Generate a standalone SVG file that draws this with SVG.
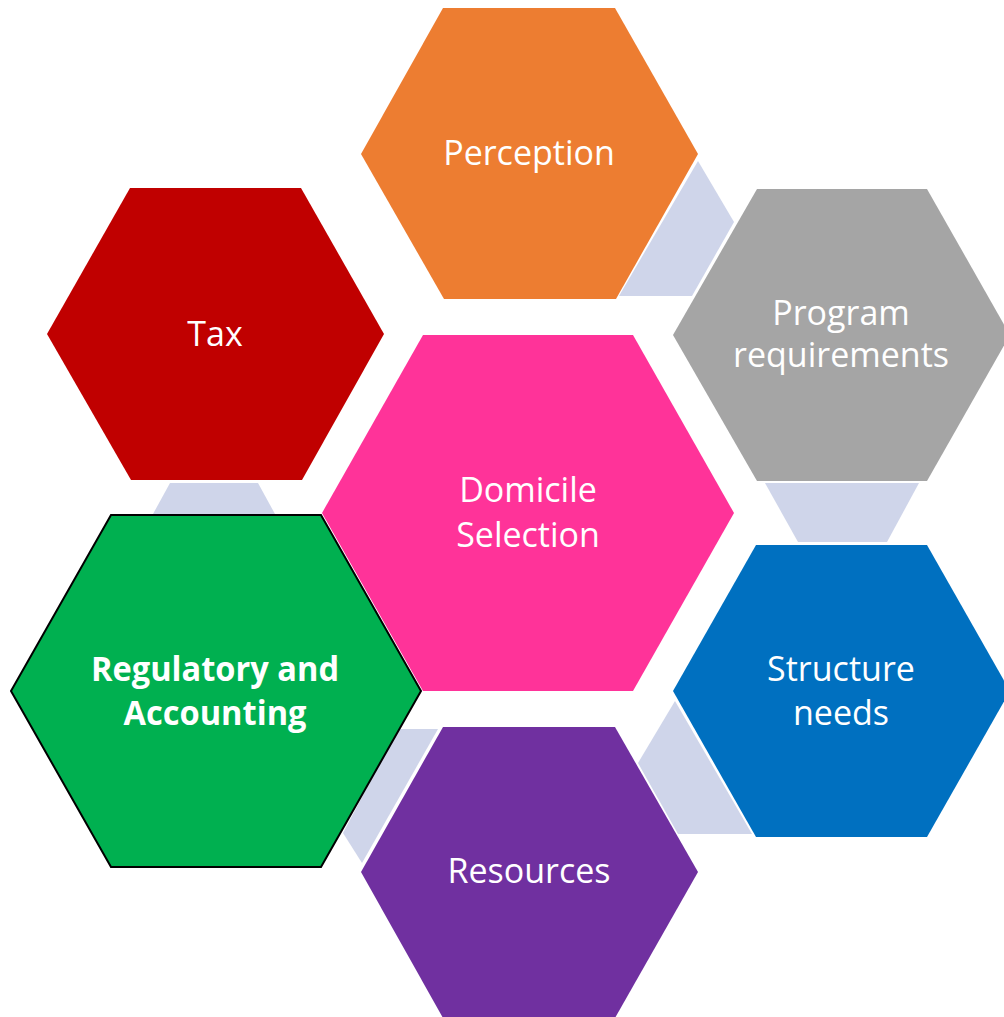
<svg xmlns="http://www.w3.org/2000/svg" width="1004" height="1017" viewBox="0 0 1004 1017">
<style>
.conn{fill:#CFD5EA;}
.lbl{font-family:"Open Sans","Liberation Sans",sans-serif;font-size:34px;fill:#FFFFFF;text-anchor:middle;}
.bold{font-weight:bold;}
</style>
<rect width="1004" height="1017" fill="#FFFFFF"/>
<g id="connectors">
<polygon class="conn" points="698,161 734,222 692,296 619,296"/>
<polygon class="conn" points="765,483 919,483 887,542 798,542"/>
<polygon class="conn" points="675,701 752,834 678,834 638,763"/>
<polygon class="conn" points="398,729 438,729 362,863 343,833"/>
<polygon class="conn" points="170,483 258,483 275,514 153,514"/>
</g>
<g id="perception">
<polygon points="443,8 615,8 698,154 616,299 444,299 361,154" fill="#ED7D31"/>
<text class="lbl" x="529" y="165">Perception</text>
</g>
<g id="program">
<polygon points="757,189 927,189 1010,335 927,481 757,481 673,335" fill="#A5A5A5"/>
<text class="lbl" x="841" y="325">Program</text>
<text class="lbl" x="841" y="367">requirements</text>
</g>
<g id="tax">
<polygon points="130,188 301,188 384,334 302,480 131,480 47,334" fill="#C00000"/>
<text class="lbl" x="215" y="346">Tax</text>
</g>
<g id="domicile">
<polygon points="423,335 633,335 734,513 633,691 423,691 322,513" fill="#FF3399"/>
<text class="lbl" x="528" y="502">Domicile</text>
<text class="lbl" x="528" y="547">Selection</text>
</g>
<g id="structure">
<polygon points="756,545 927,545 1010,691 927,837 756,837 673,691" fill="#0070C0"/>
<text class="lbl" x="841" y="681">Structure</text>
<text class="lbl" x="841" y="725">needs</text>
</g>
<g id="resources">
<polygon points="443,727 615,727 698,872 615,1018 443,1018 361,872" fill="#7030A0"/>
<text class="lbl" x="529" y="883">Resources</text>
</g>
<g id="regulatory">
<polygon points="111,515 321,515 421,691 321,867 111,867 11,691" fill="#00B050" stroke="#000000" stroke-width="2"/>
<text class="lbl bold" x="215" y="681" textLength="248" lengthAdjust="spacingAndGlyphs">Regulatory and</text>
<text class="lbl bold" x="215" y="725" textLength="183" lengthAdjust="spacingAndGlyphs">Accounting</text>
</g>
</svg>
